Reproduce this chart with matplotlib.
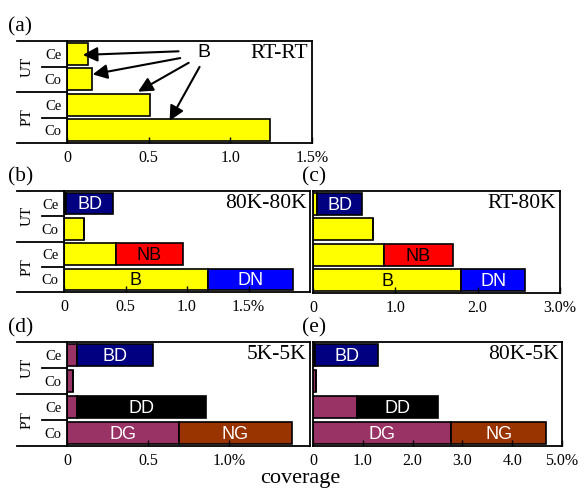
import numpy as np
import matplotlib
matplotlib.use('Agg')
import matplotlib.pyplot as plt
from matplotlib.transforms import blended_transform_factory

SERIF = 'Liberation Serif'
SANS = 'Liberation Sans'

rows = ['Ce', 'Co', 'Ce', 'Co']          # top to bottom
groups = ['UT', 'PT']

# panel data: first (yellow / purple) segment and stacked second segment
a_first = [0.13, 0.15, 0.51, 1.24]

b_first = [0.02, 0.16, 0.42, 1.17]
b_second = [0.38, 0.0, 0.55, 0.69]

c_first = [0.05, 0.73, 0.86, 1.80]
c_second = [0.55, 0.0, 0.84, 0.78]

d_first = [0.06, 0.04, 0.06, 0.69]
d_second = [0.47, 0.0, 0.80, 0.70]

e_first = [0.05, 0.07, 0.88, 2.78]
e_second = [1.25, 0.0, 1.62, 1.90]

conditions = ['RT-RT', '80K-80K', 'RT-80K', '5K-5K', '80K-5K']

YELLOW = '#ffff00'
PURPLE = '#993366'
bc_colors = ['#000080', 'white', '#ff0000', '#0000ff']
bc_names = ['BD', '', 'NB', 'DN']
bc_txt = ['white', 'black', 'black', 'white']
de_colors = ['#000080', 'white', '#000000', '#993300']
de_names = ['BD', '', 'DD', 'NG']
de_txt = ['white', 'black', 'white', 'white']

# arrows in (a): from the "B" label to each bar
arrow_from = [(0.70, 3.10), (0.71, 2.85), (0.76, 2.70), (0.82, 2.58)]
arrow_to = [(0.08, 2.95), (0.14, 2.17), (0.42, 1.46), (0.62, 0.28)]

W, H = 584, 488
fig = plt.figure(figsize=(W / 100, H / 100), dpi=100)


def px_rect(x0, y0, x1, y1):
    return [x0 / W, 1 - y1 / H, (x1 - x0) / W, (y1 - y0) / H]


ypos = np.array([3, 2, 1, 0])


def setup(ax, xmax, ticks, ticklabels, cond, letter, left_labels=True):
    ax.set_xlim(0, xmax)
    ax.set_ylim(-0.5, 3.5)
    ax.set_xticks(ticks)
    ax.set_xticklabels(ticklabels, fontfamily=SERIF, fontsize=11.5)
    ax.tick_params(axis='x', direction='in', length=4, width=1, pad=5)
    for s in ax.spines.values():
        s.set_linewidth(1.3)
    ax.text(0.985, 0.88, cond, transform=ax.transAxes, ha='right', va='center',
            fontfamily=SERIF, fontsize=15.5)
    if left_labels:
        ax.set_yticks(ypos)
        ax.set_yticklabels(rows, fontfamily=SERIF, fontsize=10.5)
        ax.tick_params(axis='y', length=0, pad=4)
        pw = ax.get_position().width * W
        tr = blended_transform_factory(ax.transAxes, ax.transData)
        x_far = -(ax.get_position().x0 * W - 17) / pw
        x_near = -(ax.get_position().x0 * W - 42) / pw
        for yy in [3.5, -0.5, 1.5]:
            ax.plot([x_far, 0], [yy, yy], color='black', lw=1.3, transform=tr, clip_on=False)
        for yy in [2.5, 0.5]:
            ax.plot([x_near, 0], [yy, yy], color='black', lw=1.3, transform=tr, clip_on=False)
        for g, yy in zip(groups, [2.5, 0.5]):
            ax.text((27 - ax.get_position().x0 * W) / pw, yy, g, transform=tr, rotation=90,
                    ha='center', va='center', fontfamily=SERIF, fontsize=11)
    else:
        ax.set_yticks([])
    ax.text(-(ax.get_position().x0 * W - (8 if left_labels else 302)) / (ax.get_position().width * W),
            1.04, letter, transform=ax.transAxes, ha='left', va='bottom',
            fontfamily=SERIF, fontsize=15.5)


def stacked(ax, first, second, c1, colors, names, txtc, first_lbl):
    ax.barh(ypos, first, height=0.86, color=c1, edgecolor='black', lw=1.2)
    ax.barh(ypos, second, left=first, height=0.86, color=colors, edgecolor='black', lw=1.2)
    for y, f, s, n, tc in zip(ypos, first, second, names, txtc):
        if s > 0:
            ax.text(f + s / 2, y - 0.05, n, ha='center', va='center', color=tc,
                    fontfamily=SANS, fontsize=13)
    lbl, lc = first_lbl
    ax.text(first[3] / 2, ypos[3] - 0.05, lbl, ha='center', va='center', color=lc,
            fontfamily=SANS, fontsize=13)


# (a)
ax_a = fig.add_axes(px_rect(67, 41, 312, 143))
ax_a.barh(ypos, a_first, height=0.86, color=YELLOW, edgecolor='black', lw=1.2)
setup(ax_a, 1.5, [0, 0.5, 1.0, 1.5], ['0', '0.5', '1.0', '1.5%'], conditions[0], '(a)')
ax_a.text(0.835, 3.05, 'B', ha='center', va='center', fontfamily=SANS, fontsize=14)
for s, t in zip(arrow_from, arrow_to):
    ax_a.annotate('', xy=t, xytext=s,
                  arrowprops=dict(arrowstyle='-|>', color='black', lw=1.5, mutation_scale=22))

# (b)
ax_b = fig.add_axes(px_rect(64, 191, 310, 292))
stacked(ax_b, b_first, b_second, YELLOW, bc_colors, bc_names, bc_txt, ('B', 'black'))
setup(ax_b, 2.0, [0, 0.5, 1.0, 1.5], ['0', '0.5', '1.0', '1.5%'], conditions[1], '(b)')

# (c)
ax_c = fig.add_axes(px_rect(313, 191, 560, 293))
stacked(ax_c, c_first, c_second, YELLOW, bc_colors, bc_names, bc_txt, ('B', 'black'))
setup(ax_c, 3.0, [0, 1.0, 2.0, 3.0], ['0', '1.0', '2.0', '3.0%'], conditions[2], '(c)',
      left_labels=False)

# (d)
ax_d = fig.add_axes(px_rect(67, 342, 310, 446))
stacked(ax_d, d_first, d_second, PURPLE, de_colors, de_names, de_txt, ('DG', 'white'))
setup(ax_d, 1.5, [0, 0.5, 1.0], ['0', '0.5', '1.0%'], conditions[3], '(d)')

# (e)
ax_e = fig.add_axes(px_rect(313, 342, 562, 446))
stacked(ax_e, e_first, e_second, PURPLE, de_colors, de_names, de_txt, ('DG', 'white'))
setup(ax_e, 5.0, [0, 1.0, 2.0, 3.0, 4.0, 5.0], ['0', '1.0', '2.0', '3.0', '4.0', '5.0%'],
      conditions[4], '(e)', left_labels=False)

fig.text(300 / W, 1 - 478 / H, 'coverage', ha='center', va='center',
         fontfamily=SERIF, fontsize=16)

fig.savefig('out.png', dpi=100)
